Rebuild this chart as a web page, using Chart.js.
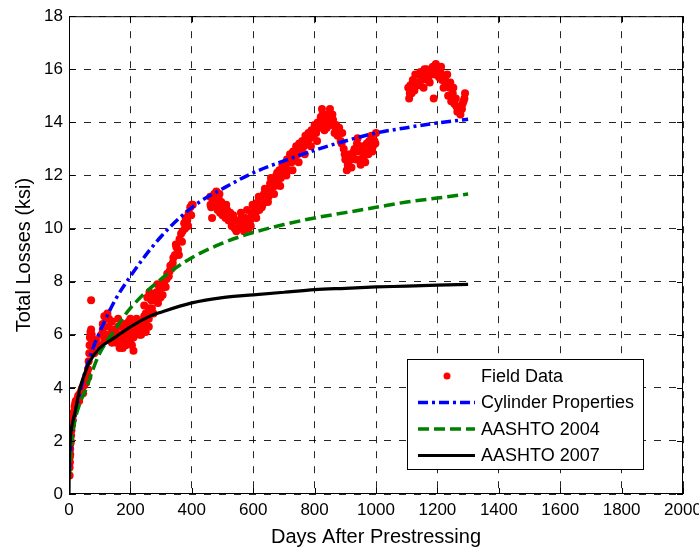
<!DOCTYPE html>
<html>
<head>
<meta charset="utf-8">
<script src="https://cdn.jsdelivr.net/npm/chart.js@4.4.0/dist/chart.umd.min.js"></script>
<style>
    body { margin: 0; background: #fff; }
    #wrap { width: 699px; height: 553px; }
</style>
</head>
<body>
<div id="wrap"><canvas id="myChart" width="699" height="553"></canvas></div>
<script>

// field measurements (days, ksi)
const fieldDays = [
    2,2,3,3,4,4,5,6,7,8,
    10,12,14,16,18,20,22,25,28,30,33,36,40,43,46,50,53,56,60,63,
    62,64,66,67,68,70,72,74,75,77,80,82,85,88,72,
    100,105,110,115,120,125,130,135,140,145,150,155,160,165,170,175,180,185,190,195,200,205,210,215,220,225,230,235,240,245,250,255,260,265,115,140,160,180,200,215,235,
    110,120,130,140,150,160,170,180,190,200,210,220,230,240,250,260,175,195,205,
    245,255,262,270,275,280,285,290,295,300,305,310,315,320,325,330,335,340,
    250,260,268,278,288,298,308,318,328,338,
    345,350,355,360,365,370,375,380,385,390,395,400,
    348,358,368,378,388,398,403,
    460,463,466,470,473,476,480,484,488,492,496,500,505,510,515,
    461,468,475,482,490,498,507,512,
    520,525,530,535,540,545,550,555,560,565,570,575,580,585,590,595,600,
    522,532,542,552,562,572,582,592,598,
    605,610,615,620,625,630,635,640,645,650,655,660,665,670,675,680,685,690,695,700,
    608,618,628,638,648,658,668,678,688,698,
    705,710,715,720,725,730,735,740,745,750,755,760,765,770,775,780,785,790,
    708,718,728,738,748,758,768,778,788,
    795,800,805,810,815,820,824,828,832,836,840,845,850,855,860,865,870,875,880,885,890,
    798,808,818,826,834,842,848,858,868,878,888,
    895,900,905,910,915,920,925,930,935,940,945,950,955,960,965,970,975,980,985,990,995,1000,
    898,908,918,928,938,948,958,968,978,988,998,
    1105,1108,1112,1116,1120,1125,1130,1135,1140,1145,1150,1155,1160,1165,1170,1175,1180,1185,1188,1190,1195,1200,1205,1210,1215,1220,1225,1230,1235,1240,1245,1250,1255,1260,1265,1270,1275,1280,1285,1290,
    1110,1118,1128,1138,1148,1158,1168,1178,1192,1202,1212,1222,1232,1242,1252,1262,1272,1282,1288
];
const fieldLosses = [
    0.7,1.0,1.2,1.4,1.5,1.7,1.9,2.0,2.2,2.4,
    2.6,2.8,3.0,3.1,3.3,3.4,3.5,3.4,3.6,3.7,3.5,3.8,3.9,4.0,3.8,4.1,4.3,4.2,4.5,4.4,
    4.7,5.0,5.3,5.6,5.9,6.1,6.2,6.0,5.8,5.5,5.7,5.3,5.6,5.8,7.3,
    5.6,6.0,6.4,6.7,6.6,6.8,6.3,5.9,6.1,5.8,6.2,5.7,6.0,5.5,6.3,5.9,6.4,5.6,6.0,6.5,5.8,6.2,5.4,6.0,6.6,6.1,6.3,6.5,6.2,6.7,6.4,6.6,6.3,6.8,5.8,6.5,6.6,5.7,6.6,6.5,6.0,
    6.2,6.0,6.6,5.7,5.9,6.3,5.8,6.1,6.4,6.1,5.9,6.3,6.0,6.5,6.1,6.6,5.5,5.7,5.6,
    7.1,7.4,7.6,7.0,6.8,7.3,7.6,7.2,7.7,7.9,7.5,8.0,7.8,8.3,8.2,8.6,8.5,8.9,
    6.8,7.0,7.3,7.5,7.9,7.4,7.8,8.1,8.4,8.7,
    9.0,9.3,9.2,9.6,9.8,9.9,10.2,10.4,10.3,10.6,10.8,10.9,
    9.4,9.0,9.5,10.0,10.1,10.5,10.9,
    11.2,10.8,10.4,11.0,11.3,10.9,11.4,10.7,11.1,10.6,11.0,10.5,10.8,10.4,10.7,
    10.9,11.1,11.2,11.0,11.3,10.8,10.6,10.9,
    10.3,10.6,10.1,10.5,10.0,9.9,10.3,10.1,10.6,10.2,9.9,10.4,10.7,10.0,10.3,10.5,10.6,
    10.6,10.4,10.3,10.0,10.4,10.1,10.3,10.1,10.9,
    10.8,10.4,11.0,10.7,11.2,10.9,11.3,11.0,11.5,11.2,11.7,11.4,11.8,11.6,12.0,11.7,12.2,11.9,12.4,12.1,
    10.6,11.2,10.8,11.5,11.0,11.9,11.3,12.1,11.6,12.3,
    12.3,12.6,12.2,12.8,12.5,12.9,12.6,13.1,12.8,13.2,12.9,13.3,13.1,13.5,13.2,13.6,13.4,13.7,
    12.0,12.5,12.2,12.8,12.5,13.0,12.8,13.3,13.1,
    13.5,13.9,13.6,14.0,13.8,14.2,14.5,14.1,13.7,14.0,13.8,14.2,14.5,13.9,14.1,13.6,13.9,13.5,13.8,13.3,13.6,
    13.7,13.3,14.0,14.3,13.9,14.3,14.1,14.3,13.8,13.7,13.2,
    13.0,12.6,12.2,12.5,12.8,12.3,12.7,13.0,12.6,13.4,12.9,12.4,13.1,12.7,12.5,13.2,12.8,13.0,13.5,13.1,13.3,13.6,
    12.8,12.4,12.6,12.9,13.2,12.6,12.9,12.8,13.3,12.9,13.2,
    15.3,14.9,15.4,15.1,15.6,15.2,15.5,15.8,15.4,15.9,15.6,15.3,15.8,16.0,15.7,15.5,15.9,16.1,14.9,15.8,16.2,16.0,15.7,15.9,15.6,15.3,15.7,15.5,15.0,15.3,14.8,15.1,14.7,14.9,14.4,14.6,14.3,14.5,14.8,15.1,
    15.1,15.3,15.8,15.5,15.7,16.0,15.6,15.8,16.0,15.9,16.1,15.6,15.8,15.5,15.3,14.6,14.4,14.7,14.9
];

// predicted curves
const cylinderDays = [1, 5, 10, 20, 35, 50, 75, 100, 150, 200, 250, 300, 360, 425, 500, 600, 700, 800, 900, 1000, 1100, 1200, 1300];
const cylinderLosses = [0.8, 1.6, 2.2, 3.0, 3.8, 4.5, 5.4, 6.1, 7.3, 8.2, 9.0, 9.7, 10.4, 11.0, 11.5, 12.1, 12.55, 12.95, 13.3, 13.6, 13.8, 13.98, 14.12];

const aashto04Days = [1, 5, 10, 20, 35, 57, 75, 100, 150, 200, 300, 400, 500, 600, 700, 800, 900, 1000, 1100, 1200, 1300];
const aashto04Losses = [0.6, 1.4, 2.1, 2.8, 3.4, 4.0, 4.6, 5.3, 6.2, 7.0, 8.1, 8.9, 9.45, 9.85, 10.15, 10.4, 10.6, 10.8, 11.0, 11.15, 11.3];

const aashto07Days = [0, 0.5, 2, 5, 10, 20, 36, 50, 68, 100, 150, 200, 264, 300, 400, 500, 600, 700, 800, 900, 1000, 1100, 1200, 1300];
const aashto07Losses = [0, 0.8, 1.6, 2.2, 2.6, 3.1, 4.0, 4.5, 5.0, 5.5, 5.9, 6.3, 6.7, 6.85, 7.2, 7.4, 7.5, 7.6, 7.7, 7.75, 7.8, 7.83, 7.87, 7.9];

const xTicks = [0, 200, 400, 600, 800, 1000, 1200, 1400, 1600, 1800, 2000];
const yTicks = [0, 2, 4, 6, 8, 10, 12, 14, 16, 18];

const seriesNames = ['Field Data', 'Cylinder Properties', 'AASHTO 2004', 'AASHTO 2007'];

const toPoints = (xs, ys) => xs.map((x, i) => ({ x: x, y: ys[i] }));

const FONT = "'Liberation Sans', Arial, sans-serif";

// frame + inward ticks like matlab, and the legend box
const matlabAxes = {
    id: 'matlabAxes',
    afterDatasetsDraw(chart) {
        const ctx = chart.ctx;
        const a = chart.chartArea;
        const xs = chart.scales.x, ys = chart.scales.y;
        ctx.save();
        ctx.strokeStyle = '#000';
        ctx.lineWidth = 1;
        ctx.strokeRect(a.left + 0.5, a.top + 0.5, a.right - a.left - 1, a.bottom - a.top - 1);
        ctx.beginPath();
        xTicks.forEach(v => {
            const px = Math.round(xs.getPixelForValue(v)) + 0.5;
            ctx.moveTo(px, a.bottom); ctx.lineTo(px, a.bottom - 6);
            ctx.moveTo(px, a.top); ctx.lineTo(px, a.top + 6);
        });
        yTicks.forEach(v => {
            const py = Math.round(ys.getPixelForValue(v)) + 0.5;
            ctx.moveTo(a.left, py); ctx.lineTo(a.left + 6, py);
            ctx.moveTo(a.right, py); ctx.lineTo(a.right - 6, py);
        });
        ctx.stroke();
        ctx.restore();
    },
    afterDraw(chart) {
        const ctx = chart.ctx;
        const a = chart.chartArea;
        const bx = a.right - 276, by = a.bottom - 135, bw = 236, bh = 110;
        ctx.save();
        ctx.fillStyle = '#fff';
        ctx.fillRect(bx, by, bw, bh);
        ctx.strokeStyle = '#000';
        ctx.lineWidth = 1;
        ctx.strokeRect(bx + 0.5, by + 0.5, bw, bh);
        ctx.font = '18px ' + FONT;
        ctx.textBaseline = 'middle';
        chart.data.datasets.forEach((ds, i) => {
            const cy = by + 17 + i * 26.5;
            if (ds.showLine) {
                ctx.strokeStyle = ds.borderColor;
                ctx.lineWidth = ds.borderWidth;
                ctx.setLineDash(ds.borderDash || []);
                ctx.beginPath();
                ctx.moveTo(bx + 11, cy);
                ctx.lineTo(bx + 68, cy);
                ctx.stroke();
                ctx.setLineDash([]);
            } else {
                ctx.fillStyle = ds.backgroundColor;
                ctx.beginPath();
                ctx.arc(bx + 40, cy, 3.5, 0, Math.PI * 2);
                ctx.fill();
            }
            ctx.fillStyle = '#000';
            ctx.fillText(ds.label, bx + 74, cy + 1);
        });
        ctx.restore();
    }
};

const config = {
    type: 'scatter',
    data: {
        datasets: [{
            label: seriesNames[0],
            data: toPoints(fieldDays, fieldLosses),
            backgroundColor: '#ff0000',
            borderWidth: 0,
            pointRadius: 4,
            order: 4
        },
        {
            label: seriesNames[1],
            data: toPoints(cylinderDays, cylinderLosses),
            showLine: true,
            borderColor: '#0000ff',
            borderWidth: 3.5,
            borderDash: [10, 4, 3, 4],
            pointRadius: 0,
            cubicInterpolationMode: 'monotone',
            order: 3
        },
        {
            label: seriesNames[2],
            data: toPoints(aashto04Days, aashto04Losses),
            showLine: true,
            borderColor: '#008000',
            borderWidth: 3.5,
            borderDash: [11, 5],
            pointRadius: 0,
            cubicInterpolationMode: 'monotone',
            order: 2
        },
        {
            label: seriesNames[3],
            data: toPoints(aashto07Days, aashto07Losses),
            showLine: true,
            borderColor: '#000000',
            borderWidth: 3.2,
            pointRadius: 0,
            cubicInterpolationMode: 'monotone',
            order: 1
        }]
    },
    options: {
        responsive: false,
        animation: false,
        layout: { padding: { top: 14, right: 16, left: 0, bottom: 0 } },
        plugins: {
            legend: { display: false },
            tooltip: { enabled: false }
        },
        scales: {
            x: {
                type: 'linear',
                min: 0,
                max: 2000,
                afterBuildTicks: (s) => { s.ticks = xTicks.map(v => ({ value: v })); },
                afterFit: (s) => { s.height = 59; s.paddingLeft = 0; s.paddingRight = 0; },
                ticks: { color: '#000', padding: 6, font: { family: FONT, size: 17 }, maxRotation: 0, callback: (v) => String(v) },
                grid: { color: 'rgba(0,0,0,0.85)', lineWidth: 1, drawTicks: false },
                border: { display: false, dash: [7, 8] },
                title: { display: true, text: 'Days After Prestressing', color: '#000', font: { family: FONT, size: 20 }, padding: { top: 4, bottom: 4 } }
            },
            y: {
                type: 'linear',
                min: 0,
                max: 18,
                afterBuildTicks: (s) => { s.ticks = yTicks.map(v => ({ value: v })); },
                afterFit: (s) => { s.width = 69; },
                ticks: { color: '#000', padding: 6, font: { family: FONT, size: 17 }, callback: (v) => String(v) },
                grid: { color: 'rgba(0,0,0,0.85)', lineWidth: 1, drawTicks: false },
                border: { display: false, dash: [7, 8] },
                title: { display: true, text: 'Total Losses (ksi)', color: '#000', font: { family: FONT, size: 20 }, padding: { top: 12, bottom: 4 } }
            }
        }
    },
    plugins: [matlabAxes]
};

const myChart = new Chart(document.getElementById('myChart'), config);
</script>
</body>
</html>
